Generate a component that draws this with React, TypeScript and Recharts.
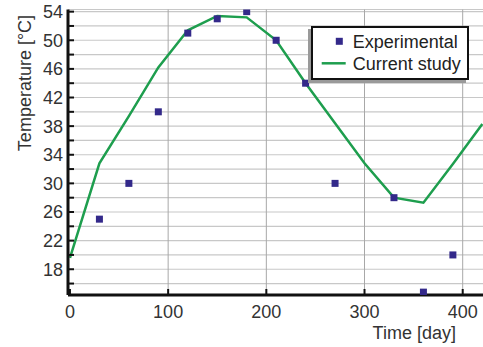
import { ComposedChart, Line, Scatter, XAxis, YAxis, CartesianGrid, ReferenceLine } from "recharts";

// model curve (Current study), sampled every 30 days
const modelDays = [0, 30, 60, 90, 120, 150, 180, 210, 240, 270, 300, 330, 360, 390, 420];
const modelTemps = [19.6, 32.8, 39.4, 46.2, 51.4, 53.4, 53.2, 50.0, 44.0, 38.4, 32.8, 28.0, 27.3, 32.7, 38.3];

// measured points (Experimental)
const expDays = [30, 60, 90, 120, 150, 180, 210, 240, 270, 330, 360, 390];
const expTemps = [25, 30, 40, 51, 53, 54, 50, 44, 30, 28, 14.8, 20];

const xTicks = [0, 100, 200, 300, 400];
const yTicks = [16, 18, 20, 22, 24, 26, 28, 30, 32, 34, 36, 38, 40, 42, 44, 46, 48, 50, 52, 54];
const yLabelled = [18, 22, 26, 30, 34, 38, 42, 46, 50, 54];

const lineData = modelDays.map((d, i) => ({ day: d, temp: modelTemps[i] }));
const expData = expDays.map((d, i) => ({ day: d, temp: expTemps[i] }));

const FONT = "'Liberation Sans', Arial, sans-serif";
const GREEN = "#1e9e4e";
const PURPLE = "#33298a";
const X_DOMAIN: [number, number] = [-2, 422];
const Y_DOMAIN: [number, number] = [14.4, 54.3];

const tickFont = { fill: "#333", fontSize: 18, fontFamily: FONT };
const axisLine = { stroke: "#111", strokeWidth: 3 };
const tickLine = { stroke: "#111", strokeWidth: 2 };

function SquareDot(props: any) {
  const { cx, cy } = props;
  if (cx == null || cy == null) return null;
  return <rect x={cx - 3.5} y={cy - 3.5} width={7} height={7} fill={PURPLE} />;
}

function Legendbox() {
  return (
    <div
      style={{
        position: "absolute",
        left: 311,
        top: 26,
        width: 154,
        height: 50,
        border: "2px solid #111",
        boxShadow: "-3px 3px 0 #9a9a9a",
        background: "#fff",
        fontFamily: FONT,
        fontSize: 18,
        color: "#222",
      }}
    >
      <svg width={154} height={50} style={{ position: "absolute", left: 0, top: 0 }}>
        <rect x={22.8} y={9.8} width={7} height={7} fill={PURPLE} />
        <line x1={8.7} x2={32.7} y1={35.3} y2={35.3} stroke={GREEN} strokeWidth={2.5} />
        <text x={39.7} y={19.6} fontSize={18} fontFamily={FONT} fill="#222">
          Experimental
        </text>
        <text x={39.7} y={41.6} fontSize={18} fontFamily={FONT} fill="#222">
          Current study
        </text>
      </svg>
    </div>
  );
}

export default function App() {
  return (
    <div style={{ position: "absolute", left: 0, top: 0, width: 483, height: 347, overflow: "hidden", background: "#fff" }}>
      <ComposedChart width={490} height={347} margin={{ top: 9.5, right: 5.7, bottom: 0, left: 0 }}>
        <CartesianGrid vertical={false} stroke="#c8c8c8" strokeWidth={1.2} />
        {xTicks
          .filter((t) => t > 0)
          .map((t) => (
            <ReferenceLine key={t} x={t} stroke="#a8a8a8" strokeWidth={1} />
          ))}
        <XAxis
          type="number"
          dataKey="day"
          domain={X_DOMAIN}
          allowDataOverflow
          ticks={xTicks}
          interval={0}
          height={52}
          axisLine={axisLine}
          tickLine={tickLine}
          tickSize={-6}
          tickMargin={16}
          tick={tickFont}
          label={(p: any) => {
            const vb = p.viewBox;
            return (
              <text x={vb.x + vb.width - 70} y={vb.y + 44} textAnchor="middle" fontSize={18} fontFamily={FONT} fill="#333">
                Time [day]
              </text>
            );
          }}
        />
        <XAxis
          xAxisId="top"
          orientation="top"
          type="number"
          dataKey="day"
          domain={X_DOMAIN}
          allowDataOverflow
          ticks={xTicks}
          interval={0}
          height={0}
          axisLine={{ stroke: "#111", strokeWidth: 2.5 }}
          tickLine={tickLine}
          tickSize={-6}
          tickFormatter={() => ""}
        />
        <YAxis
          type="number"
          domain={Y_DOMAIN}
          allowDataOverflow
          ticks={yTicks}
          interval={0}
          width={68}
          axisLine={axisLine}
          tickLine={tickLine}
          tickSize={-6}
          tickMargin={11}
          tick={tickFont}
          tickFormatter={(v: number) => (yLabelled.includes(v) ? String(v) : "")}
          label={(p: any) => {
            const vb = p.viewBox;
            return (
              <text
                x={vb.x + 25}
                y={vb.y + 73.5}
                transform={`rotate(-90 ${vb.x + 25} ${vb.y + 73.5})`}
                textAnchor="middle"
                dominantBaseline="central"
                fontSize={18}
                fontFamily={FONT}
                fill="#333"
              >
                Temperature [°C]
              </text>
            );
          }}
        />
        <YAxis
          yAxisId="right"
          orientation="right"
          type="number"
          domain={Y_DOMAIN}
          allowDataOverflow
          ticks={yTicks}
          interval={0}
          width={0}
          axisLine={axisLine}
          tickLine={tickLine}
          tickSize={-6}
          tickFormatter={() => ""}
        />
        <Line
          data={lineData}
          dataKey="temp"
          type="linear"
          stroke={GREEN}
          strokeWidth={2.5}
          dot={false}
          activeDot={false}
          isAnimationActive={false}
        />
        <Scatter data={expData} dataKey="temp" shape={<SquareDot />} isAnimationActive={false} />
      </ComposedChart>
      <Legendbox />
    </div>
  );
}
